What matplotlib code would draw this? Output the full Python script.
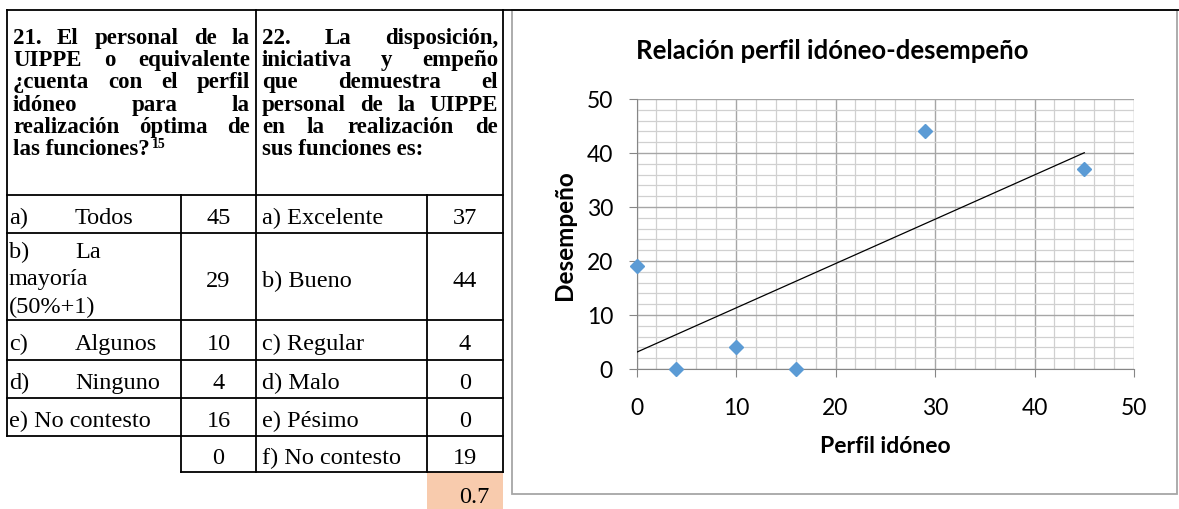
import numpy as np
import matplotlib.pyplot as plt
from matplotlib.patches import Rectangle

# pregunta 21: perfil idóneo del personal
enc_21 = ["21. El personal de la", "UIPPE o equivalente", "¿cuenta con el perfil",
          "idóneo para la", "realización óptima de", "las funciones?"]
nota_21 = "15"
opciones_21 = [["a)", "Todos"], ["b)", "La", "mayoría", "(50%+1)"], ["c)", "Algunos"],
               ["d)", "Ninguno"], ["e) No contesto"]]
perfil = [45, 29, 10, 4, 16, 0]

# pregunta 22: desempeño del personal
enc_22 = ["22. La disposición,", "iniciativa y empeño", "que demuestra el",
          "personal de la UIPPE", "en la realización de", "sus funciones es:"]
opciones_22 = ["a) Excelente", "b) Bueno", "c) Regular", "d) Malo", "e) Pésimo", "f) No contesto"]
desempeno = [37, 44, 4, 0, 0, 19]

W, H = 1179, 510
fig = plt.figure(figsize=(W / 100, H / 100), dpi=100)
ax_t = fig.add_axes([0, 0, 1, 1])
ax_t.set_xlim(0, W)
ax_t.set_ylim(H, 0)
ax_t.axis("off")
renderer = fig.canvas.get_renderer()

serif_b = dict(family="Liberation Serif", weight="bold", size=16.5)
serif = dict(family="Liberation Serif", size=17.5)


def justificar(lineas, x0, x1, y0, paso, **kw):
    # texto justificado: la última línea queda alineada a la izquierda
    for i, linea in enumerate(lineas):
        y = y0 + i * paso
        palabras = linea.split()
        if i == len(lineas) - 1:
            t = ax_t.text(x0, y, linea, va="baseline", **kw)
            continue
        textos = [ax_t.text(0, y, p, va="baseline", **kw) for p in palabras]
        anchos = [t.get_window_extent(renderer).width for t in textos]
        hueco = (x1 - x0 - sum(anchos)) / (len(palabras) - 1)
        x = x0
        for t, w in zip(textos, anchos):
            t.set_x(x)
            x += w + hueco
    return t


# columnas y filas de la tabla
X0, X1, X2, X3, X4 = 7, 181, 256, 427, 503
Y0, Y1 = 11, 196
filas = [196, 234, 321, 361, 399, 437, 473]
lw = 1.3

for y in [Y0] + filas[:-1]:
    ax_t.plot([X0, X4], [y, y], color="black", lw=lw)
ax_t.plot([X1, X4], [filas[-1], filas[-1]], color="black", lw=lw)
ax_t.plot([X0, X0], [Y0, filas[-2]], color="black", lw=lw)
ax_t.plot([X1, X1], [Y1, filas[-1]], color="black", lw=lw)
ax_t.plot([X2, X2], [Y0, filas[-1]], color="black", lw=lw)
ax_t.plot([X3, X3], [Y1, filas[-1]], color="black", lw=lw)
ax_t.plot([X4, X4], [Y0, filas[-1]], color="black", lw=lw)

# encabezados
y_enc, paso = 44, 22.2
ult = justificar(enc_21, 13, 250, y_enc, paso, **serif_b)
x_fin = ult.get_window_extent(renderer).x1
ax_t.text(x_fin + 2, y_enc + 5 * paso - 7, nota_21, va="baseline",
          family="Liberation Serif", weight="bold", size=10)
justificar(enc_22, 262, 498, y_enc, paso, **serif_b)

# cuerpo de la tabla
for i in range(6):
    yc = (filas[i] + filas[i + 1]) / 2
    yb = yc + 9.5
    if i < len(opciones_21):
        op = opciones_21[i]
        if len(op) == 1:
            ax_t.text(9, yb, op[0], va="baseline", **serif)
        elif len(op) == 2:
            ax_t.text(9, yb, op[0], va="baseline", **serif)
            ax_t.text(75, yb, op[1], va="baseline", **serif)
        else:
            yb1 = filas[i] + 24
            ax_t.text(9, yb1, op[0], va="baseline", **serif)
            ax_t.text(75, yb1, op[1], va="baseline", **serif)
            for k, extra in enumerate(op[2:]):
                ax_t.text(9, yb1 + 27.5 * (k + 1), extra, va="baseline", **serif)
    ax_t.text((X1 + X2) / 2, yb, str(perfil[i]), ha="center", va="baseline", **serif)
    ax_t.text(262, yb, opciones_22[i], va="baseline", **serif)
    ax_t.text((X3 + X4) / 2, yb, str(desempeno[i]), ha="center", va="baseline", **serif)

# coeficiente de correlación
r = np.corrcoef(perfil, desempeno)[0, 1]
ax_t.add_patch(Rectangle((X3, filas[-1]), X4 - X3, H - filas[-1], facecolor="#F8CBAD",
                         edgecolor="none", zorder=0))
ax_t.text(489, 503, f"{r:.1f}", ha="right", va="baseline", **serif)

# marco del gráfico
ax_t.plot([X4, W], [Y0, Y0], color="black", lw=lw)
ax_t.add_patch(Rectangle((512, Y0), 665, 484, fill=False, edgecolor="#A6A6A6", lw=1.3))

# gráfico de dispersión
px0, px1, py0, py1 = 636.6, 1134, 370, 100
ax = fig.add_axes([px0 / W, 1 - py0 / H, (px1 - px0) / W, (py0 - py1) / H])
ax.set_facecolor("none")
ax.set_xlim(0, 50)
ax.set_ylim(0, 50)
ax.set_xticks(np.arange(0, 51, 10))
ax.set_yticks(np.arange(0, 51, 10))
ax.set_xticks(np.arange(0, 51, 2), minor=True)
ax.set_yticks(np.arange(0, 51, 2), minor=True)
ax.grid(which="major", color="#A6A6A6", lw=1.0)
ax.grid(which="minor", color="#D0D0D0", lw=0.9)
ax.set_axisbelow(True)
ax.tick_params(which="minor", length=0)
ax.tick_params(which="major", length=6, color="#868686", labelsize=16.5)
ax.tick_params(axis="x", pad=14)
ax.tick_params(axis="y", pad=11)
for lab in ax.get_xticklabels() + ax.get_yticklabels():
    lab.set_family("Lato")
for s in ["top", "right"]:
    ax.spines[s].set_visible(False)
for s in ["left", "bottom"]:
    ax.spines[s].set_color("#868686")

ax.plot(perfil, desempeno, "D", color="#5B9BD5", ms=7, clip_on=False, zorder=4)
m, b = np.polyfit(perfil, desempeno, 1)
xs = np.array([0, max(perfil)])
ax.plot(xs, m * xs + b, color="black", lw=0.9, zorder=3)

fig.text(832 / W, 1 - 59 / H, "Relación perfil idóneo-desempeño", ha="center", va="baseline",
         family="Lato", weight="bold", size=18.5)
ax.text(0.5, (py0 - 447) / (py0 - py1), "Perfil idóneo", transform=ax.transAxes,
        ha="center", va="center", family="Lato", weight="bold", size=16.5)
ax.text((565 - px0) / (px1 - px0), 0.5, "Desempeño", transform=ax.transAxes, rotation=90,
        ha="center", va="center", family="Lato", weight="bold", size=17.5)

fig.savefig("out.png", dpi=100)
